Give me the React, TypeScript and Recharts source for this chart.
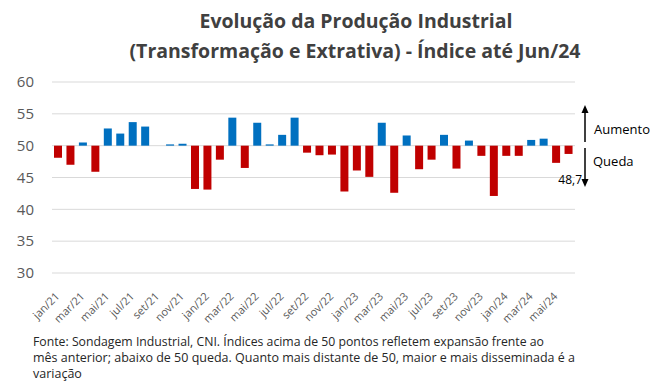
import React from 'react';
import { BarChart, Bar, XAxis, YAxis, CartesianGrid, Cell } from 'recharts';

const months = [
  'jan/21', 'fev/21', 'mar/21', 'abr/21', 'mai/21', 'jun/21', 'jul/21', 'ago/21', 'set/21', 'out/21', 'nov/21', 'dez/21',
  'jan/22', 'fev/22', 'mar/22', 'abr/22', 'mai/22', 'jun/22', 'jul/22', 'ago/22', 'set/22', 'out/22', 'nov/22', 'dez/22',
  'jan/23', 'fev/23', 'mar/23', 'abr/23', 'mai/23', 'jun/23', 'jul/23', 'ago/23', 'set/23', 'out/23', 'nov/23', 'dez/23',
  'jan/24', 'fev/24', 'mar/24', 'abr/24', 'mai/24', 'jun/24',
];

const indexValues = [
  48.1, 47.0, 50.5, 45.9, 52.7, 51.9, 53.7, 53.0, 50.0, 50.2, 50.3, 43.2,
  43.1, 47.8, 54.4, 46.5, 53.6, 50.2, 51.7, 54.4, 48.9, 48.5, 48.6, 42.8,
  46.1, 45.1, 53.6, 42.6, 51.6, 46.3, 47.8, 51.7, 46.4, 50.8, 48.4, 42.1,
  48.4, 48.4, 50.9, 51.1, 47.3, 48.7,
];

const yTicks = [30, 35, 40, 45, 50, 55, 60];
const baseline = 50;

const titleLines = [
  'Evolução da Produção Industrial',
  '(Transformação e Extrativa) - Índice até Jun/24',
];

const noteLines = [
  'Fonte: Sondagem Industrial, CNI. Índices acima de 50 pontos refletem expansão frente ao',
  'mês anterior; abaixo de 50 queda. Quanto mais distante de 50, maior e mais disseminada é a',
  'variação',
];

const BLUE = '#0070C0';
const RED = '#C00000';
const FONT = '"Open Sans", "Liberation Sans", sans-serif';

const data = months.map((m, i) => ({
  month: m,
  value: indexValues[i],
  range: [Math.min(baseline, indexValues[i]), Math.max(baseline, indexValues[i])],
}));

const MonthTick = (props: any) => {
  const { x, y, payload } = props;
  const ax = x + 2;
  const ay = y + 24;
  return (
    <text
      x={ax}
      y={ay}
      transform={`rotate(-45, ${ax}, ${ay})`}
      textAnchor="end"
      fontSize={11}
      fill="#595959"
      fontFamily={FONT}
    >
      {payload.value}
    </text>
  );
};

const lastValue = indexValues[indexValues.length - 1].toFixed(1).replace('.', ',');

export default function App() {
  return (
    <div style={{ position: 'absolute', left: 0, top: 0, width: 654, height: 389, background: '#fff' }}>
      <svg width={654} height={389} style={{ position: 'absolute', left: 0, top: 0 }}>
        <text x={356} y={28} textAnchor="middle" fontSize={20} fontWeight="bold" fill="#404040"
          fontFamily={FONT} textLength={313} lengthAdjust="spacingAndGlyphs">
          {titleLines[0]}
        </text>
        <text x={355} y={58} textAnchor="middle" fontSize={20} fontWeight="bold" fill="#404040"
          fontFamily={FONT} textLength={451} lengthAdjust="spacingAndGlyphs">
          {titleLines[1]}
        </text>
        <text x={33} y={346} fontSize={12.5} fill="#262626" fontFamily={FONT} textLength={511} lengthAdjust="spacingAndGlyphs">
          {noteLines[0]}
        </text>
        <text x={33} y={362} fontSize={12.5} fill="#262626" fontFamily={FONT} textLength={542} lengthAdjust="spacingAndGlyphs">
          {noteLines[1]}
        </text>
        <text x={33} y={378} fontSize={12.5} fill="#262626" fontFamily={FONT}>
          {noteLines[2]}
        </text>
      </svg>
      <div style={{ position: 'absolute', left: 0, top: 0 }}>
        <BarChart
          width={654}
          height={389}
          data={data}
          margin={{ top: 82, right: 79, bottom: 66, left: 0 }}
          barSize={8}
        >
          <CartesianGrid vertical={false} stroke="#d9d9d9" />
          <XAxis
            dataKey="month"
            interval={1}
            axisLine={false}
            tickLine={false}
            tickSize={0}
            tickMargin={0}
            height={50}
            tick={<MonthTick />}
          />
          <YAxis
            domain={[30, 60]}
            ticks={yTicks}
            width={52}
            axisLine={false}
            tickLine={false}
            tickSize={0}
            tickMargin={18}
            tick={{ fontSize: 15, fill: '#595959', fontFamily: FONT }}
          />
          <Bar dataKey="range" isAnimationActive={false}>
            {data.map((d) => (
              <Cell key={d.month} fill={d.value >= baseline ? BLUE : RED} />
            ))}
          </Bar>
        </BarChart>
      </div>
      <svg width={654} height={389} style={{ position: 'absolute', left: 0, top: 0, pointerEvents: 'none' }}>
        <line x1={585} y1={142} x2={585} y2={111} stroke="#000" strokeWidth={1.5} />
        <polygon points="585,105 581.5,113 588.5,113" fill="#000" />
        <line x1={585} y1={148} x2={585} y2={181} stroke="#000" strokeWidth={1.5} />
        <polygon points="585,187 581.5,179 588.5,179" fill="#000" />
        <text x={594} y={134} fontSize={13} fill="#000" fontFamily={FONT}>Aumento</text>
        <text x={593} y={166} fontSize={13} fill="#000" fontFamily={FONT}>Queda</text>
        <text x={582} y={184} textAnchor="end" fontSize={12} fill="#000" fontFamily={FONT}>{lastValue}</text>
      </svg>
    </div>
  );
}
